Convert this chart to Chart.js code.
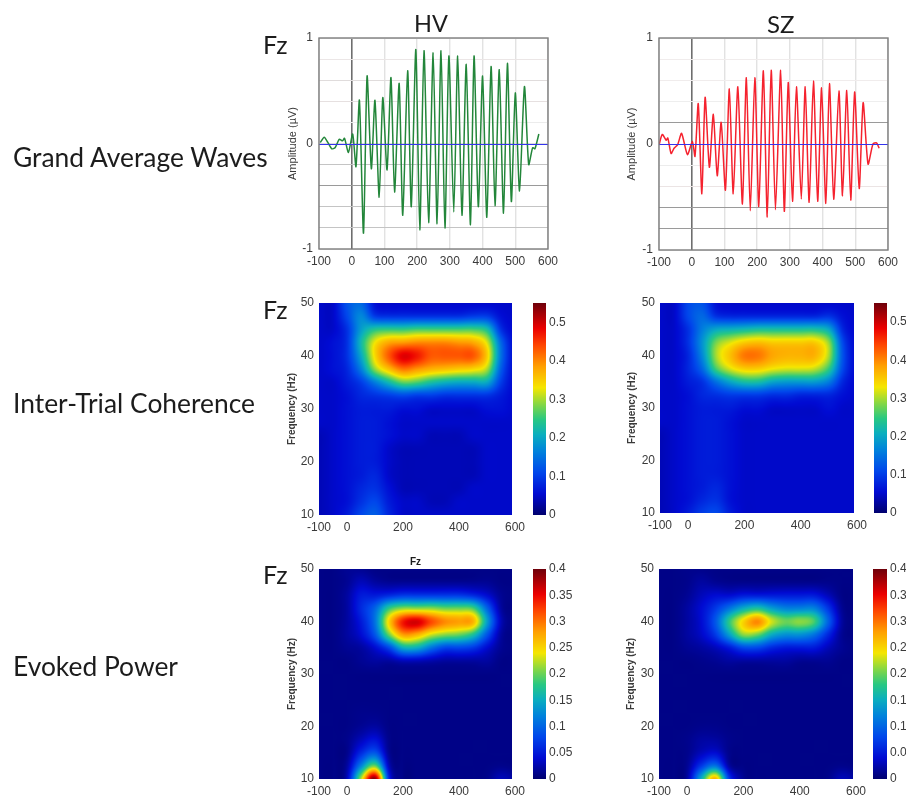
<!DOCTYPE html>
<html><head><meta charset="utf-8">
<style>
html,body{margin:0;padding:0;background:#fff;width:906px;height:797px;overflow:hidden}
#stage{position:relative;width:906px;height:797px;overflow:hidden;filter:blur(0.6px)}
canvas{position:absolute;display:block}
.t{position:absolute;font-family:Lato,"Open Sans",sans-serif;color:#1c1c1c;white-space:nowrap;line-height:1}
</style>
<script src="https://cdn.jsdelivr.net/npm/chart.js@4/dist/chart.umd.min.js"></script>
</head><body><div id="stage">
<div class="t" style="left:13px;top:144px;font-size:26.4px">Grand Average Waves</div>
<div class="t" style="left:13px;top:390px;font-size:26.4px">Inter-Trial Coherence</div>
<div class="t" style="left:13px;top:653px;font-size:26.4px">Evoked Power</div>
<div class="t" style="left:414px;top:12px;font-size:23.5px">HV</div>
<div class="t" style="left:767px;top:12px;font-size:24px">SZ</div>
<div class="t" style="left:263px;top:32px;font-size:25px">Fz</div>
<div class="t" style="left:263px;top:297px;font-size:25px">Fz</div>
<div class="t" style="left:263px;top:562px;font-size:25px">Fz</div>
<div class="t" style="left:410px;top:556px;font:bold 10px 'Liberation Sans',sans-serif">Fz</div>
</div>
<script>
// ---------- grand average waves (ms, µV) ----------
const hvTime=[-96,-84,-73,-61,-51,-38,-28,-22,-10,3,13,23.5,36,47,60,71,84,95,108,120,131,145,156,171,182,196,208,221,235,249,261,273,285,297,312,324,337,350,363,374,387,400,413,426,438,451,464,476,488,500,513,528,541,553,560,572];
const hvAmp=[0.01,0.06,0.01,-0.05,-0.04,0.04,0.025,0.05,-0.085,0.09,-0.22,0.41,-0.85,0.64,-0.24,0.41,-0.51,0.435,-0.25,0.625,-0.46,0.57,-0.68,0.69,-0.6,0.89,-0.82,0.88,-0.75,0.86,-0.76,0.88,-0.8,0.83,-0.65,0.83,-0.68,0.75,-0.77,0.83,-0.6,0.64,-0.7,0.73,-0.59,0.7,-0.66,0.76,-0.55,0.48,-0.45,0.54,-0.2,-0.04,-0.05,0.09];
const szTime=[-100,-90,-78,-73,-63,-54,-43,-31,-13,2,10,20,31,41,54,66,78,90,103,115,127,141,155,167,179,193,205,219,231,243,256,272,283,295,308,320,335,347,359,372,385,397,410,421,434,450,461,474,486,498,512,524,539,554,565,573];
const szAmp=[-0.01,0.09,0.035,0.057,-0.09,-0.04,-0.006,0.1,-0.1,0.025,-0.117,0.38,-0.47,0.44,-0.22,0.28,-0.3,0.205,-0.435,0.52,-0.47,0.54,-0.565,0.625,-0.63,0.625,-0.59,0.69,-0.69,0.695,-0.62,0.695,-0.635,0.58,-0.54,0.54,-0.52,0.54,-0.55,0.595,-0.54,0.53,-0.56,0.57,-0.52,0.5,-0.49,0.505,-0.53,0.49,-0.42,0.39,-0.19,0,0.01,-0.04];
const waveXTicks=[-100,0,100,200,300,400,500,600];
// ---------- time-frequency grids ----------
const tfTimes=[-100,-50,0,50,100,150,200,250,300,350,400,450,500,550,600];
const tfFreqs=[50,47.5,45,42.5,40,37.5,35,32.5,30,27.5,25,22.5,20,17.5,15,12.5,10];
const heatXTicks=[-100,0,200,400,600];
const heatYTicks=[10,20,30,40,50];
const itcTicks=[0,0.1,0.2,0.3,0.4,0.5];
const powerTicks=[0,0.05,0.1,0.15,0.2,0.25,0.3,0.35,0.4];
const itcHV=[
[.05,.05,.12,.14,.06,.05,.05,.05,.05,.05,.05,.05,.05,.05,.05],
[.05,.05,.11,.17,.10,.09,.09,.09,.09,.09,.09,.10,.10,.06,.05],
[.05,.05,.09,.19,.24,.25,.25,.26,.26,.26,.26,.26,.23,.09,.05],
[.05,.06,.09,.22,.33,.38,.39,.40,.40,.40,.39,.38,.32,.14,.05],
[.05,.06,.09,.20,.34,.43,.49,.47,.43,.43,.43,.43,.35,.15,.05],
[.05,.06,.08,.16,.29,.36,.41,.39,.37,.36,.35,.34,.30,.13,.05],
[.05,.05,.07,.10,.16,.22,.27,.26,.23,.21,.20,.20,.20,.10,.05],
[.05,.05,.06,.08,.09,.10,.11,.10,.10,.09,.09,.09,.09,.07,.05],
[.05,.05,.06,.07,.07,.07,.06,.06,.05,.05,.05,.05,.06,.06,.05],
[.05,.05,.06,.07,.07,.06,.05,.05,.05,.05,.05,.05,.05,.05,.05],
[.04,.05,.06,.07,.07,.06,.05,.05,.04,.04,.04,.05,.05,.05,.05],
[.04,.05,.06,.07,.07,.05,.04,.04,.04,.04,.04,.04,.05,.05,.05],
[.04,.05,.06,.07,.07,.05,.04,.04,.04,.04,.04,.04,.05,.05,.05],
[.04,.05,.06,.07,.08,.05,.04,.04,.04,.04,.04,.04,.05,.05,.05],
[.04,.05,.06,.08,.09,.06,.04,.04,.04,.04,.04,.05,.05,.05,.05],
[.04,.05,.06,.09,.11,.07,.05,.05,.04,.04,.05,.05,.05,.05,.05],
[.04,.05,.07,.11,.13,.08,.05,.05,.05,.05,.05,.05,.05,.05,.05]];
const itcSZ=[
[.05,.05,.11,.12,.06,.05,.05,.05,.05,.05,.05,.05,.05,.05,.05],
[.05,.05,.11,.14,.09,.08,.08,.08,.08,.08,.08,.08,.09,.06,.05],
[.05,.05,.09,.16,.20,.21,.22,.23,.23,.23,.23,.23,.20,.08,.05],
[.05,.05,.09,.18,.28,.32,.35,.36,.35,.35,.35,.35,.29,.11,.05],
[.05,.05,.08,.17,.30,.36,.41,.41,.38,.37,.37,.37,.30,.12,.05],
[.05,.05,.08,.14,.26,.32,.35,.35,.33,.32,.32,.31,.25,.11,.05],
[.05,.05,.07,.09,.15,.20,.23,.23,.20,.19,.19,.19,.16,.08,.05],
[.05,.05,.06,.08,.09,.10,.10,.10,.09,.09,.08,.08,.08,.06,.05],
[.05,.05,.06,.07,.07,.07,.06,.06,.05,.05,.05,.05,.06,.05,.05],
[.05,.05,.06,.07,.07,.06,.05,.05,.05,.05,.05,.05,.05,.05,.05],
[.04,.05,.06,.07,.07,.06,.05,.05,.05,.05,.05,.05,.05,.05,.05],
[.04,.05,.06,.07,.07,.06,.05,.05,.05,.05,.05,.05,.05,.05,.05],
[.04,.05,.06,.07,.07,.06,.05,.05,.05,.05,.05,.05,.05,.05,.05],
[.04,.05,.06,.07,.07,.06,.05,.05,.05,.05,.05,.05,.05,.05,.05],
[.04,.05,.06,.07,.08,.06,.05,.05,.05,.05,.05,.05,.05,.05,.05],
[.04,.05,.06,.08,.09,.06,.05,.05,.05,.05,.05,.05,.05,.05,.05],
[.04,.05,.07,.10,.11,.07,.05,.05,.05,.05,.05,.05,.05,.05,.05]];
const powerHV=[
[.01,.01,.015,.015,.01,.01,.01,.01,.01,.01,.01,.01,.01,.01,.01],
[.01,.01,.015,.03,.02,.015,.015,.015,.015,.015,.015,.015,.015,.01,.01],
[.01,.01,.02,.05,.05,.06,.07,.07,.07,.07,.07,.06,.04,.015,.01],
[.01,.01,.02,.06,.10,.18,.21,.21,.21,.20,.20,.19,.10,.02,.01],
[.01,.01,.02,.05,.11,.25,.34,.36,.32,.29,.28,.27,.14,.03,.01],
[.01,.01,.02,.04,.09,.20,.28,.27,.23,.21,.20,.17,.09,.02,.01],
[.01,.01,.015,.02,.04,.08,.15,.15,.11,.08,.08,.07,.04,.015,.01],
[.01,.01,.01,.015,.02,.02,.03,.03,.025,.02,.02,.02,.02,.01,.01],
[.01,.01,.01,.01,.01,.01,.01,.01,.01,.01,.01,.01,.01,.01,.01],
[.01,.01,.01,.01,.01,.01,.01,.01,.01,.01,.01,.01,.01,.01,.01],
[.01,.01,.01,.01,.01,.01,.01,.01,.01,.01,.01,.01,.01,.01,.01],
[.01,.01,.01,.012,.012,.01,.01,.01,.01,.01,.01,.01,.01,.01,.01],
[.01,.01,.01,.015,.02,.01,.01,.01,.01,.01,.01,.01,.01,.01,.01],
[.01,.01,.012,.03,.045,.012,.01,.01,.01,.01,.01,.01,.01,.01,.01],
[.01,.01,.012,.06,.09,.015,.01,.01,.01,.01,.01,.01,.01,.01,.01],
[.01,.01,.02,.12,.20,.03,.01,.01,.01,.01,.01,.01,.01,.012,.01],
[.01,.01,.03,.22,.39,.06,.01,.01,.01,.01,.01,.01,.012,.03,.02]];
const powerSZ=[
[.01,.01,.012,.012,.01,.01,.01,.01,.01,.01,.01,.01,.01,.01,.01],
[.01,.01,.012,.02,.015,.012,.012,.012,.012,.012,.012,.012,.012,.01,.01],
[.01,.01,.015,.03,.04,.04,.05,.05,.05,.05,.05,.05,.03,.01,.01],
[.01,.01,.02,.04,.07,.11,.15,.17,.14,.12,.12,.12,.07,.015,.01],
[.01,.01,.02,.04,.09,.18,.25,.29,.23,.20,.21,.19,.10,.02,.01],
[.01,.01,.02,.035,.07,.14,.21,.20,.15,.13,.13,.11,.06,.015,.01],
[.01,.01,.015,.02,.03,.05,.08,.08,.06,.05,.05,.05,.03,.015,.01],
[.01,.01,.01,.012,.015,.02,.02,.02,.02,.02,.015,.015,.015,.01,.01],
[.01,.01,.01,.01,.01,.01,.01,.01,.01,.01,.01,.01,.01,.01,.01],
[.01,.01,.01,.01,.01,.01,.01,.01,.01,.01,.01,.01,.01,.01,.01],
[.01,.01,.01,.01,.01,.01,.01,.01,.01,.01,.01,.01,.01,.01,.01],
[.01,.01,.01,.01,.01,.01,.01,.01,.01,.01,.01,.01,.01,.01,.01],
[.01,.01,.01,.012,.012,.01,.01,.01,.01,.01,.01,.01,.01,.01,.01],
[.01,.01,.012,.02,.02,.012,.01,.01,.01,.01,.01,.01,.01,.01,.01],
[.01,.01,.012,.03,.04,.012,.01,.01,.01,.01,.01,.01,.01,.01,.01],
[.01,.01,.015,.07,.11,.02,.01,.01,.01,.01,.01,.01,.01,.012,.01],
[.01,.01,.02,.15,.27,.07,.015,.01,.01,.01,.01,.01,.012,.03,.02]];
// colour map stops: fraction, r, g, b
const mapStops=[[0,0,0,110],[.1,0,10,210],[.2,0,70,235],[.3,0,130,220],[.38,10,175,190],[.45,40,200,130],[.52,130,215,70],[.6,245,230,0],[.7,255,160,0],[.8,255,70,0],[.88,235,0,0],[1,110,0,10]];

// ---------- helpers ----------
const FONT="'Liberation Sans',Arial,sans-serif", TICK='#3a3a3a';
function jet(f){
  f=Math.max(0,Math.min(1,f));
  let i=0;while(i<mapStops.length-2&&f>mapStops[i+1][0])i++;
  const a=mapStops[i],b=mapStops[i+1],u=(f-a[0])/(b[0]-a[0]);
  return [1,2,3].map(k=>a[k]+(b[k]-a[k])*u);
}
function cr(p0,p1,p2,p3,t){return 0.5*(2*p1+(p2-p0)*t+(2*p0-5*p1+4*p2-p3)*t*t+(3*p1-p0-3*p2+p3)*t*t*t);}
function sample(grid,times,freqs,t,f){
  const cf=(t-times[0])/(times[1]-times[0]), rf=(freqs[0]-f)/(freqs[0]-freqs[1]);
  const ci=Math.floor(cf), ri=Math.floor(rf), tx=cf-ci, ty=rf-ri;
  const g=(r,c)=>grid[Math.max(0,Math.min(grid.length-1,r))][Math.max(0,Math.min(times.length-1,c))];
  const row=r=>cr(g(r,ci-1),g(r,ci),g(r,ci+1),g(r,ci+2),tx);
  return cr(row(ri-1),row(ri),row(ri+1),row(ri+2),ty);
}
const heatPlugin={id:'heat',beforeDatasetsDraw(ch,a,o){
  if(!o.grid)return;
  const {left,top,width,height}=ch.chartArea,x=ch.scales.x,y=ch.scales.y;
  const w=Math.round(width),h=Math.round(height),img=ch.ctx.createImageData(w,h);
  for(let j=0;j<h;j++)for(let i=0;i<w;i++){
    const t=x.getValueForPixel(left+i+.5),f=y.getValueForPixel(top+j+.5),k=(j*w+i)*4;
    if(t>o.end)continue;
    const rgb=jet(sample(o.grid,tfTimes,tfFreqs,t,f)/o.vmax);
    img.data[k]=rgb[0];img.data[k+1]=rgb[1];img.data[k+2]=rgb[2];img.data[k+3]=255;
  }
  ch.ctx.putImageData(img,Math.round(left),Math.round(top));
}};
const barPlugin={id:'cbar',beforeDatasetsDraw(ch,a,o){
  if(!o.vmax)return;
  const {left,top,width,height}=ch.chartArea,y=ch.scales.y,ctx=ch.ctx;
  for(let j=0;j<Math.round(height);j++){
    const rgb=jet(y.getValueForPixel(top+j+.5)/o.vmax);
    ctx.fillStyle=`rgb(${rgb.map(Math.round).join(',')})`;
    ctx.fillRect(left,top+j,width,1);
  }
}};
const framePlugin={id:'frame',afterDatasetsDraw(ch,a,o){
  if(!o.color)return;
  const {left,right,top,width,height}=ch.chartArea,c=ch.ctx,z=Math.round(ch.scales.y.getPixelForValue(0))+.5;
  c.save();
  c.strokeStyle=o.zero;c.lineWidth=1;c.beginPath();c.moveTo(left,z);c.lineTo(right,z);c.stroke();
  c.strokeStyle=o.color;c.lineWidth=1.4;c.strokeRect(left,top,width,height);c.restore();
}};
Chart.register(heatPlugin,barPlugin,framePlugin);
function mount(left,top,w,h){
  const c=document.createElement('canvas');c.width=w;c.height=h;
  c.style.left=left+'px';c.style.top=top+'px';c.style.width=w+'px';c.style.height=h+'px';
  document.getElementById('stage').appendChild(c);return c.getContext('2d');
}
function fixedTicks(list){return s=>{s.ticks=list.map(v=>({value:v}));};}
const PADT=16;
function wave(pl,pt,pw,ph,times,amps,color,gridCol,titleGap){
  const W=titleGap+6,padR=20,H=22;
  new Chart(mount(pl-W,pt-PADT,W+pw+padR,PADT+ph+H),{type:'scatter',
    data:{datasets:[{data:times.map((t,i)=>({x:t,y:amps[i]})),showLine:true,borderColor:color,borderWidth:1.5,pointRadius:0,tension:0.22,fill:false}]},
    options:{responsive:false,animation:false,layout:{padding:{top:PADT,right:padR,left:0,bottom:0}},
      plugins:{legend:{display:false},tooltip:{enabled:false},frame:{color:'#7d7d7d',zero:'#3434ee'}},
      scales:{
        x:{type:'linear',min:-100,max:600,afterBuildTicks:fixedTicks(waveXTicks),afterFit:s=>{s.height=H;},
          border:{display:false},
          grid:{drawTicks:false,lineWidth:c=>c.tick&&c.tick.value===0?1.6:1.4,color:c=>c.tick&&c.tick.value===0?'#6e6e6e':'#e2e2e2'},
          ticks:{padding:5,maxRotation:0,autoSkip:false,color:TICK,font:{family:FONT,size:12}}},
        y:{type:'linear',min:-1,max:1,afterFit:s=>{s.width=W;},border:{display:false},
          afterBuildTicks:s=>{s.ticks=gridCol.map(g=>({value:g[0]}));},
          grid:{drawTicks:false,lineWidth:1,color:c=>{const g=gridCol.find(q=>c.tick&&q[0]===c.tick.value);return g?g[1]:'#eee';}},
          title:{display:true,text:'Amplitude (µV)',padding:0,color:TICK,font:{family:FONT,size:11}},
          ticks:{padding:6,autoSkip:false,color:TICK,font:{family:FONT,size:12},callback:v=>(v===1||v===0||v===-1)?String(v):''}}
      }}});
}
function heat(pl,pt,pw,ph,grid,vmax,titleGap){
  const W=titleGap+6,padR=20,H=22;
  const pts=[];tfFreqs.forEach((f,r)=>tfTimes.forEach((t,c)=>pts.push({x:t,y:f,v:grid[r][c]})));
  new Chart(mount(pl-W,pt-PADT,W+pw+padR,PADT+ph+H),{type:'scatter',
    data:{datasets:[{data:pts,pointRadius:0}]},
    options:{responsive:false,animation:false,layout:{padding:{top:PADT,right:padR,left:0,bottom:0}},
      plugins:{legend:{display:false},tooltip:{enabled:false},heat:{grid,vmax,end:590}},
      scales:{
        x:{type:'linear',min:-100,max:600,afterBuildTicks:fixedTicks(heatXTicks),afterFit:s=>{s.height=H;},
          border:{display:false},grid:{display:false,drawTicks:false},
          ticks:{padding:5,maxRotation:0,autoSkip:false,color:TICK,font:{family:FONT,size:12}}},
        y:{type:'linear',min:10,max:50,afterBuildTicks:fixedTicks(heatYTicks),afterFit:s=>{s.width=W;},
          border:{display:false},grid:{display:false,drawTicks:false},
          title:{display:true,text:'Frequency (Hz)',padding:0,color:TICK,font:{family:FONT,size:10,weight:'bold'}},
          ticks:{padding:5,autoSkip:false,color:TICK,font:{family:FONT,size:12}}}
      }}});
}
function cbar(pl,pt,pw,ph,vmax,tickList){
  const R=44;
  new Chart(mount(pl,pt-PADT,pw+R,ph+2*PADT),{type:'scatter',data:{datasets:[{data:[]}]},
    options:{responsive:false,animation:false,layout:{padding:{top:PADT,bottom:PADT,left:0,right:0}},
      plugins:{legend:{display:false},tooltip:{enabled:false},cbar:{vmax}},
      scales:{
        x:{display:false,min:0,max:1},
        y:{type:'linear',position:'right',min:0,max:vmax,afterBuildTicks:fixedTicks(tickList),afterFit:s=>{s.width=R;},
          border:{display:false},grid:{display:false,drawTicks:false},
          ticks:{padding:3,autoSkip:false,color:TICK,font:{family:FONT,size:12},callback:v=>String(+v.toFixed(2))}}
      }}});
}
const F='#ececec',M='#c4c4c4',D='#9a9a9a';
wave(319,38,229,211,hvTime,hvAmp,'#23863a',[[-1,F],[-0.8,M],[-0.6,M],[-0.4,D],[-0.2,M],[0.2,F],[0.4,'#e6e0e0'],[0.6,'#e0dcdc'],[0.8,'#ebe6e6'],[1,F],[0,'#dddddd']],27);
wave(659,38,229,212,szTime,szAmp,'#f5222e',[[-1,F],[-0.8,D],[-0.6,D],[-0.4,'#ebe4e4'],[-0.2,F],[0.2,D],[0.4,'#eeeeee'],[0.6,'#f0ecec'],[0.8,'#f0ecec'],[1,F],[0,'#dddddd']],28);
heat(319,303,196,212,itcHV,0.55,27);
heat(660,303,197,210,itcSZ,0.55,28);
heat(319,569,196,210,powerHV,0.4,27);
heat(659,569,197,210,powerSZ,0.4,28);
cbar(533,303,13,212,0.55,itcTicks);
cbar(874,303,13,210,0.55,itcTicks);
cbar(533,569,13,210,0.4,powerTicks);
cbar(873,569,14,210,0.4,powerTicks);
</script></body></html>
